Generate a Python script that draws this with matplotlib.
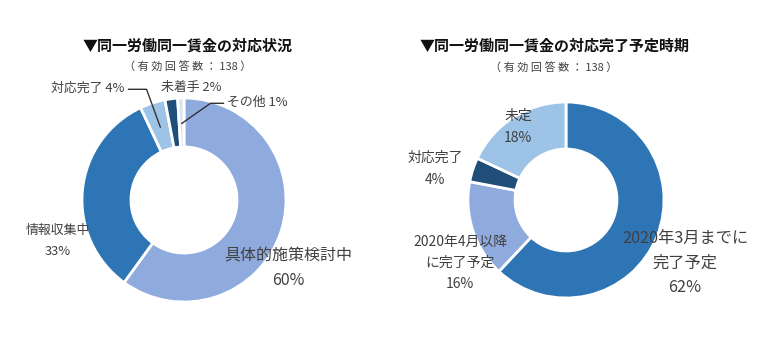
import numpy as np
import matplotlib.pyplot as plt

plt.rcParams['font.family'] = ['Noto Sans CJK JP', 'DejaVu Sans']

# 左: 同一労働同一賃金の対応状況
status_labels = ['具体的施策検討中', '情報収集中', '対応完了', '未着手', 'その他']
status_values = [60, 33, 4, 2, 1]
status_colors = ['#8FAADC', '#2E75B6', '#9DC3E6', '#1F4E79', '#DAE3F3']

# 右: 対応完了予定時期
plan_labels = ['2020年3月までに\n完了予定', '2020年4月以降\nに完了予定', '対応完了', '未定']
plan_values = [62, 16, 4, 18]
plan_colors = ['#2E75B6', '#8FAADC', '#1F4E79', '#9DC3E6']

W, H = 771, 357
fig = plt.figure(figsize=(W / 100, H / 100), dpi=100)
ax = fig.add_axes([0, 0, 1, 1])


def py(y):
    return H - y


txt = '#404040'

# left donut
c1 = (184, py(200))
r1 = 102
wedges1, _ = ax.pie(status_values, colors=status_colors, startangle=90, counterclock=False,
                    center=c1, radius=r1, wedgeprops=dict(width=0.48 * r1, edgecolor='white', linewidth=2),
                    frame=True)

# right donut
c2 = (566, py(200))
r2 = 98
wedges2, _ = ax.pie(plan_values, colors=plan_colors, startangle=90, counterclock=False,
                    center=c2, radius=r2, wedgeprops=dict(width=0.48 * r2, edgecolor='white', linewidth=2),
                    frame=True)
ax.set_xlim(0, W)
ax.set_ylim(0, H)
ax.set_aspect('equal')
ax.axis('off')

# titles
ax.text(188, py(46), '▼同一労働同一賃金の対応状況', ha='center', va='center',
        fontsize=10.8, fontweight='bold', color='#111111')
ax.text(188, py(67), '（ 有 効 回 答 数 ： 138 ）', ha='center', va='center', fontsize=8, color=txt)
ax.text(555, py(46), '▼同一労働同一賃金の対応完了予定時期', ha='center', va='center',
        fontsize=10.8, fontweight='bold', color='#111111')
ax.text(554, py(68), '（ 有 効 回 答 数 ： 138 ）', ha='center', va='center', fontsize=8, color=txt)

# left labels
ax.text(288, py(268), f'{status_labels[0]}\n{status_values[0]}%', ha='center', va='center',
        fontsize=11.5, color=txt, linespacing=1.6)
ax.text(58, py(241), f'{status_labels[1]}\n{status_values[1]}%', ha='center', va='center',
        fontsize=9.3, color=txt, linespacing=1.8)


def mid_point(w, frac=0.75):
    ang = np.deg2rad((w.theta1 + w.theta2) / 2)
    cx, cy = w.center
    return cx + w.r * frac * np.cos(ang), cy + w.r * frac * np.sin(ang)


ax.annotate(f'{status_labels[2]} {status_values[2]}%', xy=mid_point(wedges1[2]), xytext=(88, py(88)),
            ha='center', va='center', fontsize=9.3, color=txt,
            arrowprops=dict(arrowstyle='-', color='#333333', lw=1, shrinkA=0, shrinkB=0,
                            relpos=(1.05, 0.4), connectionstyle='angle,angleA=0,angleB=-70,rad=0'))
ax.text(191, py(87), f'{status_labels[3]} {status_values[3]}%', ha='center', va='center',
        fontsize=9.3, color=txt)
ax.annotate(f'{status_labels[4]} {status_values[4]}%', xy=mid_point(wedges1[4]), xytext=(257, py(102)),
            ha='center', va='center', fontsize=9.3, color=txt,
            arrowprops=dict(arrowstyle='-', color='#333333', lw=1, shrinkA=0, shrinkB=0,
                            relpos=(-0.05, 0.4), connectionstyle='angle,angleA=0,angleB=35,rad=0'))

# right labels
ax.text(685, py(263), f'{plan_labels[0]}\n{plan_values[0]}%', ha='center', va='center',
        fontsize=11.7, color=txt, linespacing=1.6)
ax.text(460, py(263), f'{plan_labels[1]}\n{plan_values[1]}%', ha='center', va='center',
        fontsize=10, color=txt, linespacing=1.6)
ax.text(435, py(169), f'{plan_labels[2]}\n{plan_values[2]}%', ha='center', va='center',
        fontsize=10, color=txt, linespacing=1.7)
ax.text(518, py(127), f'{plan_labels[3]}\n{plan_values[3]}%', ha='center', va='center',
        fontsize=10, color=txt, linespacing=1.7)

fig.savefig('out.png', dpi=100)
